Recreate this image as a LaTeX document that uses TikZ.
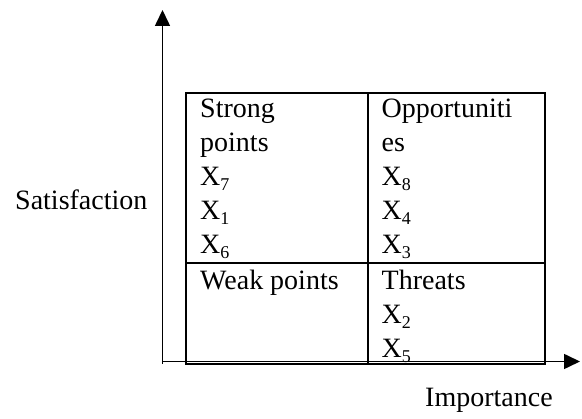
\documentclass[tikz,border=0pt]{standalone}
\usepackage{fontspec}
\setmainfont{Liberation Serif}
\usetikzlibrary{arrows.meta}
\newcommand{\sbx}[1]{X\raisebox{-5pt}{\fontsize{18}{18}\selectfont #1}}
\begin{document}
\begin{tikzpicture}[x=1pt,y=-1pt,
  txt/.style={anchor=base west,inner sep=0pt,font=\fontsize{28}{34}\selectfont},
  axis/.style={line width=1.6pt,-{Triangle[width=15pt,length=16pt]}},
  grid/.style={line width=1.6pt}]
\useasboundingbox (0,0) rectangle (582,419);
% table
\draw[grid] (185.7,93) rectangle (545,364);
\draw[grid] (368,93) -- (368,364);
\draw[grid] (185.7,263) -- (545,263);
% axes
\coordinate (o) at (162.5,364);
\coordinate (ytip) at (162.5,10);
\coordinate (ox) at (162,361.5);
\coordinate (xtip) at (580,361.5);
\draw[axis] (o) -- (ytip);
\draw[axis] (ox) -- (xtip);
% left column
\node[txt] (s1) at (200,118) {Strong};
\node[txt] (s2) at (200,152) {points};
\node[txt] (s3) at (200,186) {\sbx{7}};
\node[txt] (s4) at (200,220) {\sbx{1}};
\node[txt] (s5) at (200,254) {\sbx{6}};
\node[txt] (w1) at (200,290) {Weak points};
% right column
\node[txt] (o1) at (381.5,118) {Opportuniti};
\node[txt] (o2) at (381.5,152) {es};
\node[txt] (o3) at (381.5,186) {\sbx{8}};
\node[txt] (o4) at (381.5,220) {\sbx{4}};
\node[txt] (o5) at (381.5,254) {\sbx{3}};
\node[txt] (t1) at (381.5,290) {Threats};
\node[txt] (t2) at (381.5,324) {\sbx{2}};
\node[txt] (t3) at (381.5,358) {\sbx{5}};
% axis labels
\node[txt] (sat) at (15,210) {Satisfaction};
\node[txt] (imp) at (425,407) {Importance};
\end{tikzpicture}
\end{document}
